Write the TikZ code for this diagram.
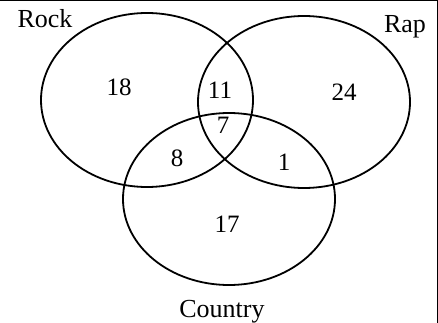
\documentclass[tikz,border=0pt]{standalone}
\usepackage{fontspec}
\setmainfont{Liberation Serif}
\begin{document}
\begin{tikzpicture}[x=1pt,y=-1pt,
  setring/.style={draw=black,line width=1.8pt},
  lbl/.style={anchor=base,inner sep=0pt,font=\fontsize{26}{31}\selectfont},
  num/.style={anchor=base,inner sep=0pt,font=\fontsize{25}{30}\selectfont}]
\useasboundingbox (0,0) rectangle (438,323);
\draw[line width=1.5pt] (0,0.75) -- (437.25,0.75) -- (437.25,323);
\draw[setring] (147,100) ellipse [x radius=106, y radius=87];
\draw[setring] (304,102) ellipse [x radius=106, y radius=86];
\draw[setring] (229,199) ellipse [x radius=106, y radius=86];
\node[lbl] (rock) at (45,28) {Rock};
\node[lbl] (rap) at (405,33) {Rap};
\node[lbl] (country) at (222,317) {Country};
\node[num] (n18) at (119,96) {18};
\node[num] (n11) at (220,99) {11};
\node[num] (n24) at (344,101) {24};
\node[num] (n7) at (223,134) {7};
\node[num] (n8) at (177,166) {8};
\node[num] (n1) at (284,170) {1};
\node[num] (n17) at (227,232) {17};
\end{tikzpicture}
\end{document}
